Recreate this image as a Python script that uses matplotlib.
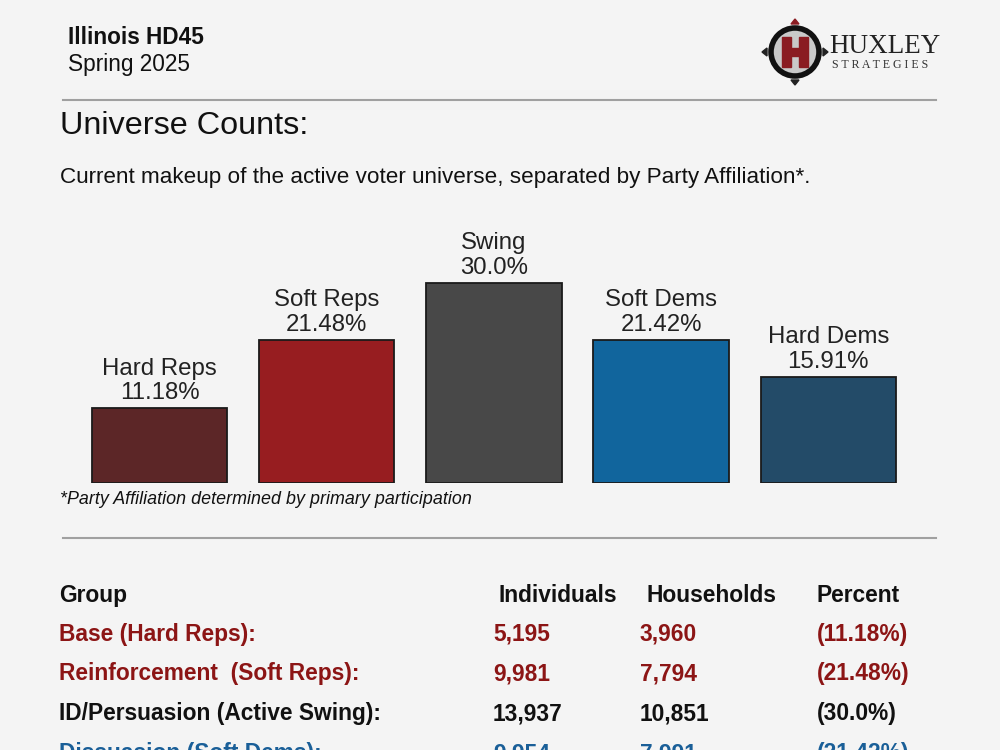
import matplotlib
matplotlib.use("Agg")
import matplotlib.pyplot as plt
from matplotlib.patches import Circle, Rectangle, Polygon
from matplotlib.lines import Line2D

plt.rcParams['font.family'] = ['Liberation Sans', 'DejaVu Sans']

# ---- data ----
categories = ["Hard Reps", "Soft Reps", "Swing", "Soft Dems", "Hard Dems"]
percents = [11.18, 21.48, 30.0, 21.42, 15.91]
pct_labels = ["11.18%", "21.48%", "30.0%", "21.42%", "15.91%"]
bar_colors = ["#5c2627", "#971d20", "#484848", "#11659d", "#234b68"]

table_header = ["Group", "Individuals", "Households", "Percent"]
groups = ["Base (Hard Reps):", "Reinforcement  (Soft Reps):",
          "ID/Persuasion (Active Swing):", "Dissuasion (Soft Dems):"]
individuals = ["5,195", "9,981", "13,937", "9,954"]
households = ["3,960", "7,794", "10,851", "7,991"]
percent_col = ["(11.18%)", "(21.48%)", "(30.0%)", "(21.42%)"]
row_colors = ["#8c1515", "#8c1515", "#111111", "#1a5f98"]

W, H = 1000, 750
BG = "#f4f4f4"
fig = plt.figure(figsize=(W / 100, H / 100), dpi=100, facecolor=BG)


def fx(x):
    return x / W


def fy(y):
    return 1 - y / H


def ftext(x, y, s, **kw):
    fig.text(fx(x), fy(y), s, **kw)


# header
ftext(68, 38, "Illinois HD45", fontsize=16.3, fontweight="bold", va="center", color="#111")
ftext(68, 65, "Spring 2025", fontsize=16.3, va="center", color="#111")
fig.add_artist(Line2D([fx(63), fx(936)], [fy(100), fy(100)], color="#a0a0a0", lw=1.5))
ftext(60, 126, "Universe Counts:", fontsize=23.3, va="center", color="#111")
ftext(60, 177, "Current makeup of the active voter universe, separated by Party Affiliation*.",
      fontsize=16.2, va="center", color="#111")

# logo
cx, cy, r = 795, 52, 24
lax = fig.add_axes([0, 0, 1, 1], facecolor="none")
lax.set_xlim(0, W)
lax.set_ylim(H, 0)
lax.axis("off")
lax.add_patch(Circle((cx, cy), r, facecolor="#c9c9c9", edgecolor="#111", lw=4.0, zorder=2))
hcol = "#8a1c22"
lax.add_patch(Rectangle((cx - 13, cy - 15), 9, 30, color=hcol, zorder=3))
lax.add_patch(Rectangle((cx + 4, cy - 15), 9, 30, color=hcol, zorder=3))
lax.add_patch(Rectangle((cx - 5, cy - 4), 10, 8, color=hcol, zorder=3))
for (ax_, ay_, dx, dy, col) in [(cx, cy - r - 6, 0, -1, "#8a1c22"), (cx, cy + r + 6, 0, 1, "#222"),
                                (cx - r - 6, cy, -1, 0, "#222"), (cx + r + 6, cy, 1, 0, "#222")]:
    if dx == 0:
        pts = [(ax_ - 4, ay_ - 2 * dy), (ax_ + 4, ay_ - 2 * dy), (ax_, ay_ + 3 * dy)]
    else:
        pts = [(ax_ - 2 * dx, ay_ - 4), (ax_ - 2 * dx, ay_ + 4), (ax_ + 3 * dx, ay_)]
    lax.add_patch(Polygon(pts, closed=True, color=col, zorder=3))
lax.text(829, 53, "HUXLEY", fontsize=19.5, family="Liberation Serif", color="#222",
         va="baseline", ha="left")
lax.text(832, 68, "S T R A T E G I E S", fontsize=8.6, family="Liberation Serif",
         color="#333", va="baseline", ha="left")

# bar chart
spacing = 167.2
left = 159.5 - 0.5 * spacing
right = left + 5 * spacing
bottom, top = 483, 215
ax = fig.add_axes([fx(left), fy(bottom), fx(right - left), (bottom - top) / H], facecolor="none")
px_per_pct = 200 / 30.0
ax.set_xlim(-0.5, 4.5)
ax.set_ylim(0, (bottom - top) / px_per_pct)
ax.axis("off")
xs = range(len(categories))
bars = ax.bar(xs, percents, width=0.81, color=bar_colors, edgecolor="#1a1a1a", linewidth=1.3)
for x, p, c, pl in zip(xs, percents, categories, pct_labels):
    ax.annotate(f"{c}\n{pl}", (x, p), xytext=(0, 3), textcoords="offset points",
                ha="center", va="bottom", fontsize=17.3, color="#222", linespacing=1.15)

ftext(60, 499, "*Party Affiliation determined by primary participation", fontsize=12.9,
      style="italic", va="center", color="#111")
fig.add_artist(Line2D([fx(63), fx(936)], [fy(538), fy(538)], color="#a0a0a0", lw=1.5))

# table
hx = [59, 498, 646, 817]
for x, s in zip(hx, table_header):
    ftext(x, 602, s, fontsize=16.4, fontweight="bold", va="baseline", color="#111")
vx = [59, 493, 640, 817]
row_y = [641, 680, 720, 760]
for i in range(len(groups)):
    vals = [groups[i], individuals[i], households[i], percent_col[i]]
    for x, s in zip(vx, vals):
        ftext(x, row_y[i], s, fontsize=16.4, fontweight="bold", va="baseline", color=row_colors[i])

fig.savefig("out.png", dpi=100, facecolor=BG)
